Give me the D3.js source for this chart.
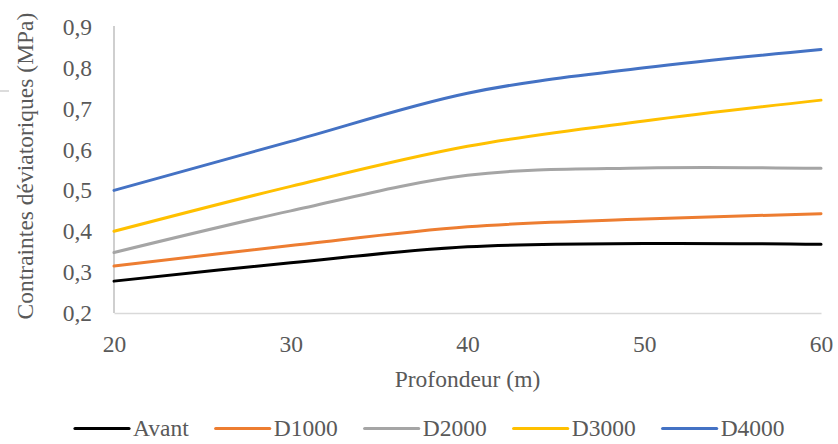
<!DOCTYPE html>
<html>
<head>
<meta charset="utf-8">
<script src="https://cdn.jsdelivr.net/npm/d3@7"></script>
<style>
  html, body { margin: 0; padding: 0; background: #fff; }
  svg { display: block; }
</style>
</head>
<body>
<svg id="chart" width="838" height="444"></svg>
<script>
// Depth (m) and deviatoric stress (MPa) per loading stage
const depths = [20, 30, 40, 50, 60];
const avant = [0.278, 0.323, 0.362, 0.370, 0.368];
const d1000 = [0.315, 0.365, 0.411, 0.430, 0.443];
const d2000 = [0.348, 0.450, 0.537, 0.555, 0.554];
const d3000 = [0.400, 0.510, 0.608, 0.670, 0.721];
const d4000 = [0.500, 0.620, 0.738, 0.800, 0.845];
const seriesNames = ["Avant", "D1000", "D2000", "D3000", "D4000"];
const seriesColors = ["#000000", "#ED7D31", "#A5A5A5", "#FFC000", "#4472C4"];
const xTicks = [20, 30, 40, 50, 60];
const yTicks = [0.2, 0.3, 0.4, 0.5, 0.6, 0.7, 0.8, 0.9];

const series = [avant, d1000, d2000, d3000, d4000].map((vals, i) => ({
  name: seriesNames[i],
  color: seriesColors[i],
  points: vals.map((v, j) => [depths[j], v])
}));

const FONT = "Liberation Serif";
const FS = 23.5;
const TXT = "#595959";
const svg = d3.select("#chart");
const plotLeft = 114, plotRight = 821, plotTop = 27, plotBottom = 313;

const x = d3.scaleLinear().domain([20, 60]).range([plotLeft, plotRight]);
const y = d3.scaleLinear().domain([0.2, 0.9]).range([plotBottom, plotTop]);

const fmt = d => d3.format(".1f")(d).replace(".", ",");

// small stray rule at the top left
svg.append("line").attr("x1", 0).attr("x2", 9).attr("y1", 91).attr("y2", 91)
  .attr("stroke", "#d0d0d0").attr("stroke-width", 1.5);

// Y axis
const yAxis = svg.append("g").attr("transform", `translate(${plotLeft},0)`)
  .call(d3.axisLeft(y).tickValues(yTicks).tickFormat(fmt).tickSize(0).tickPadding(22));
yAxis.attr("font-family", FONT).attr("font-size", FS);
yAxis.select(".domain").attr("stroke", "#bfbfbf").attr("stroke-width", 1.5)
  .attr("d", `M0,${plotTop - 1}V${plotBottom}`);
yAxis.selectAll("text").attr("fill", TXT);

// X axis
const xAxis = svg.append("g").attr("transform", `translate(0,${plotBottom})`)
  .call(d3.axisBottom(x).tickValues(xTicks).tickFormat(d3.format("d")).tickSize(0).tickPadding(22));
xAxis.attr("font-family", FONT).attr("font-size", FS);
xAxis.select(".domain").attr("stroke", "#d9d9d9").attr("stroke-width", 1.5);
xAxis.selectAll("text").attr("fill", TXT);

// Axis titles
svg.append("text").attr("x", x(40)).attr("y", 387).attr("text-anchor", "middle")
  .attr("font-family", FONT).attr("font-size", FS).attr("fill", TXT)
  .text("Profondeur (m)");
svg.append("text").attr("transform", "translate(33,166) rotate(-90)")
  .attr("text-anchor", "middle").attr("font-family", FONT).attr("font-size", FS)
  .attr("fill", TXT).text("Contraintes déviatoriques (MPa)");

// Smoothed series lines
const line = d3.line()
  .x(d => x(d[0])).y(d => y(d[1]))
  .curve(d3.curveCardinal.tension(0));

svg.append("g").selectAll("path").data(series).join("path")
  .attr("d", d => line(d.points))
  .attr("fill", "none")
  .attr("stroke", d => d.color)
  .attr("stroke-width", 3)
  .attr("stroke-linecap", "round");

// Legend: swatch line + label, laid out left to right
const legend = svg.append("g");
let cursor = 75;
series.forEach(s => {
  const g = legend.append("g").attr("transform", `translate(${cursor},428.5)`);
  g.append("line").attr("x1", 0).attr("x2", 54).attr("y1", 0).attr("y2", 0)
    .attr("stroke", s.color).attr("stroke-width", 3.2).attr("stroke-linecap", "round");
  const t = g.append("text").attr("x", 58).attr("y", 7.5)
    .attr("font-family", FONT).attr("font-size", FS).attr("fill", TXT).text(s.name);
  cursor += 58 + t.node().getComputedTextLength() + 27;
});
</script>
</body>
</html>
